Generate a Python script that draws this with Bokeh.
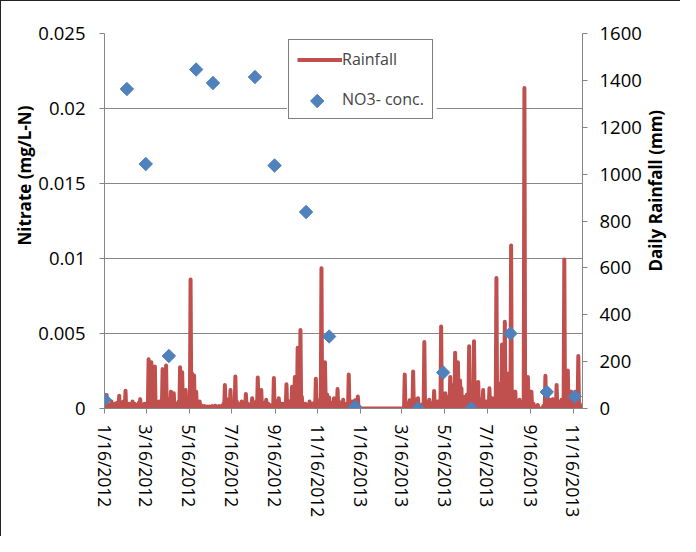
import numpy as np
import pandas as pd
from bokeh.plotting import figure
from bokeh.models import Range1d, LinearAxis, FixedTicker, Legend, LegendItem, Title
from bokeh.embed import file_html
from bokeh.resources import INLINE

# ---------------- data ----------------
start_date = "2012-01-16"
end_date = "2013-11-29"

x_tick_labels = ["1/16/2012", "3/16/2012", "5/16/2012", "7/16/2012", "9/16/2012",
                 "11/16/2012", "1/16/2013", "3/16/2013", "5/16/2013", "7/16/2013",
                 "9/16/2013", "11/16/2013"]

nitrate_ticks = [0, 0.005, 0.01, 0.015, 0.02, 0.025]
rain_ticks = [0, 200, 400, 600, 800, 1000, 1200, 1400, 1600]

no3_dates = ["2012-01-16", "2012-02-17", "2012-03-15", "2012-04-17", "2012-05-26",
             "2012-06-19", "2012-08-18", "2012-09-15", "2012-10-30", "2012-12-02",
             "2013-01-08", "2013-04-08", "2013-05-14", "2013-06-23", "2013-08-18",
             "2013-10-09", "2013-11-18"]
no3_conc = [0.0006, 0.0213, 0.0163, 0.0035, 0.0226, 0.0217, 0.0221, 0.0162, 0.0131,
            0.0048, 0.0001, 0.0, 0.0024, 0.0, 0.0050, 0.0011, 0.0008]

# daily rainfall: rainy days given as days after 2012-01-16; all other days are dry (0 mm)
rain_day = [1, 3, 6, 10, 13, 15, 18, 21, 25, 27, 30, 33, 35, 40, 43, 46, 49, 51, 54, 57,
            60, 63, 65, 67, 70, 72, 75, 78, 80, 83, 86, 88, 91, 93, 95, 99, 101, 103, 106,
            108, 111, 113, 116, 119, 121, 123, 125, 127, 128, 131, 133, 136, 139, 143, 147,
            150, 154, 158, 161, 164, 168, 170, 172, 175, 178, 180, 183, 185, 187, 189, 191,
            194, 196, 199, 202, 205, 208, 211, 213, 215, 217, 219, 222, 224, 227, 229, 231,
            234, 236, 239, 242, 244, 246, 249, 251, 254, 257, 260, 262, 264, 266, 268, 270,
            272, 274, 276, 278, 280, 282, 284, 287, 289, 291, 293, 295, 297, 300, 302, 305,
            308, 310, 312, 315, 316, 318, 321, 323, 325, 328, 330, 333, 335, 337, 339, 341,
            344, 346, 349, 352, 354, 356, 358, 360, 362,
            429, 433, 436, 438, 441, 444, 446, 448, 452, 455, 457, 460, 462, 464, 467, 469,
            471, 474, 476, 479, 481, 484, 487, 489, 491, 494, 496, 498, 501, 503, 505, 508,
            510, 512, 515, 518, 521, 524, 526, 528, 531, 533, 534, 537, 539, 541, 543, 545,
            547, 550, 552, 554, 557, 560, 562, 565, 568, 570, 572, 575, 577, 578, 579, 581,
            583, 584, 587, 590, 592, 593, 596, 598, 600, 602, 603, 605, 607, 608, 610, 613,
            616, 619, 627, 630, 633, 635, 638, 641, 643, 646, 649, 651, 653, 655, 657, 659,
            662, 664, 667, 669, 672, 675, 677, 679, 682]
rain_mm = [40, 58, 15, 30, 12, 20, 25, 54, 18, 30, 76, 15, 20, 30, 20, 15, 25, 40, 15, 20,
           20, 210, 60, 197, 40, 179, 25, 30, 20, 168, 30, 183, 40, 25, 72, 65, 15, 20, 30,
           176, 155, 30, 79, 25, 15, 550, 150, 60, 141, 72, 20, 30, 12, 10, 8,
           8, 10, 12, 8, 10, 12, 20, 100, 40, 25, 79, 30, 15, 137, 30, 20,
           15, 30, 25, 62, 20, 15, 44, 12, 20, 30, 132, 25, 79, 25, 12, 37,
           20, 15, 10, 130, 25, 30, 44, 15, 20, 20, 103, 15, 30, 25, 93, 30,
           134, 40, 259, 60, 335, 50, 20, 20, 15, 15, 30, 20, 20, 25, 127, 30,
           37, 598, 50, 197, 40, 60, 47, 20, 25, 44, 15, 83, 30, 20, 15, 37,
           15, 20, 145, 25, 30, 15, 35, 20, 51,
           145, 20, 35, 15, 158, 40, 12, 44, 15, 20, 284, 30, 15, 37, 20, 25,
           75, 15, 30, 30, 350, 40, 65, 40, 50, 134, 30, 100, 238, 60, 197, 120,
           86, 40, 50, 60, 266, 100, 40, 287, 60, 30, 113, 40, 20, 79, 25, 30,
           30, 86, 20, 44, 25, 557, 40, 107, 273, 60, 370, 150, 50, 120, 80, 695,
           40, 60, 72, 30, 20, 37, 20, 30, 1367, 100, 40, 134, 25, 50, 72, 20,
           10, 15, 10, 140, 60, 25, 37, 40, 20, 100, 30, 20, 37, 40, 636, 50,
           162, 30, 72, 50, 44, 25, 224, 20, 10]

# ---------------- layout constants ----------------
W, H = 680, 536
BORDER_L, BORDER_R, BORDER_T, BORDER_B = 103, 95, 32, 129
FRAME_W = W - BORDER_L - BORDER_R
FRAME_H = H - BORDER_T - BORDER_B
LEG_X, LEG_Y = 184, 289          # legend bottom-left, px from frame bottom-left
LEG_PAD, LEG_ROW, LEG_SPACING, LEG_GLYPH_W = 8, 21, 18, 45
LEG_W = 151
LEG_H = 2 * LEG_PAD + 2 * LEG_ROW + LEG_SPACING

FONT = "Open Sans"
GRAY = "#868686"
RED = "#C0504D"
BLUE = "#4F81BD"
NBSP = "\u00a0"

# ---------------- derived ----------------
t0 = pd.Timestamp(start_date)
n_days = (pd.Timestamp(end_date) - t0).days + 1
rain_x = np.arange(n_days)
rain_y = np.zeros(n_days)
rain_y[np.array(rain_day)] = rain_mm

no3_x = [(pd.Timestamp(d) - t0).days for d in no3_dates]
x_ticks = [(pd.to_datetime(s, format="%m/%d/%Y") - t0).days for s in x_tick_labels]

p = figure(width=W, height=H, output_backend="svg", toolbar_location=None,
           x_range=Range1d(0, n_days - 1), y_range=Range1d(0, 0.025),
           min_border_left=BORDER_L, min_border_right=BORDER_R,
           min_border_top=BORDER_T, min_border_bottom=BORDER_B,
           styles={"border-left": "1px solid #222", "border-top": "1px solid #222"})
p.extra_y_ranges = {"rain": Range1d(0, 1600), "px_y": Range1d(0, FRAME_H)}
p.extra_x_ranges = {"px_x": Range1d(0, FRAME_W)}
p.outline_line_color = None
p.xgrid.visible = False
p.ygrid.grid_line_color = GRAY
p.ygrid.grid_line_width = 1
p.ygrid.ticker = FixedTicker(ticks=nitrate_ticks)


def style_axis(ax, ticks, overrides, standoff, size):
    ax.ticker = FixedTicker(ticks=ticks)
    ax.major_label_overrides = overrides
    ax.axis_line_color = GRAY
    ax.major_tick_line_color = GRAY
    ax.major_tick_out = 5
    ax.major_tick_in = 0
    ax.minor_tick_line_color = None
    ax.major_label_text_font = FONT
    ax.major_label_text_font_size = size
    ax.major_label_text_color = "#000000"
    ax.major_label_standoff = standoff


style_axis(p.xaxis[0], x_ticks, {t: l for t, l in zip(x_ticks, x_tick_labels)}, 11, "17.5px")
p.xaxis[0].major_label_orientation = "vertical"
style_axis(p.yaxis[0], nitrate_ticks, {t: f"{t:g}" for t in nitrate_ticks}, 14, "18.5px")

rax = LinearAxis(y_range_name="rain")
style_axis(rax, rain_ticks, {t: str(t) for t in rain_ticks}, 12, "18.5px")
p.add_layout(rax, "right")

# left axis title (reads upwards), placed off-centre like the original
p.add_layout(Title(text="Nitrate (mg/L-N)", align="left", offset=163, standoff=0,
                   text_font=FONT, text_font_size="17px", text_font_style="bold",
                   text_color="#000000"), "left")

# right axis title, on a bare axis that only carries the label (reads upwards)
lab_r = LinearAxis(y_range_name="rain", ticker=FixedTicker(ticks=[]),
                   axis_line_color=None, major_tick_line_color=None,
                   minor_tick_line_color=None, major_tick_out=0, major_tick_in=0,
                   major_label_standoff=0,
                   axis_label_text_font=FONT, axis_label_text_font_size="17px",
                   axis_label_text_font_style="bold", axis_label_text_color="#000000",
                   axis_label_standoff=11)
rain_title = "Daily Rainfall (mm)"
try:
    lab_r.axis_label_orientation = np.pi / 2
except Exception:
    pass
try:
    lab_r.axis_label_align = "start"
    lab_r.axis_label = NBSP * 31 + rain_title
except Exception:
    lab_r.axis_label = rain_title
p.add_layout(lab_r, "right")

# white backing of the legend box (hides the grid line behind the legend)
p.quad(left=[LEG_X], right=[LEG_X + LEG_W], bottom=[LEG_Y], top=[LEG_Y + LEG_H],
       x_range_name="px_x", y_range_name="px_y", fill_color="white", line_color=None)
# diamond key of the legend (rotated square)
p.scatter([LEG_X + LEG_PAD + LEG_GLYPH_W / 2], [LEG_Y + LEG_PAD + LEG_ROW / 2],
          x_range_name="px_x", y_range_name="px_y", marker="square", angle=np.pi / 4,
          size=9.5, fill_color=BLUE, line_color=BLUE)

r_rain = p.line(rain_x, rain_y, y_range_name="rain", line_color=RED, line_width=4,
                line_join="round")
r_no3 = p.scatter(no3_x, no3_conc, marker="square", angle=np.pi / 4, size=9.5,
                  fill_color=BLUE, line_color=BLUE)
r_key = p.scatter([], [], marker="square", fill_alpha=0, line_alpha=0)

legend = Legend(items=[LegendItem(label="Rainfall", renderers=[r_rain]),
                       LegendItem(label="NO3- conc.", renderers=[r_key])],
                location=(LEG_X, LEG_Y), orientation="vertical",
                border_line_color="#000000", border_line_width=1,
                background_fill_alpha=0,
                label_text_font=FONT, label_text_font_size="16px",
                glyph_width=LEG_GLYPH_W, glyph_height=LEG_ROW, label_height=LEG_ROW,
                spacing=LEG_SPACING, padding=LEG_PAD, margin=0, label_standoff=0)
p.add_layout(legend, "center")

open("out.html", "w").write(file_html(p, INLINE))
